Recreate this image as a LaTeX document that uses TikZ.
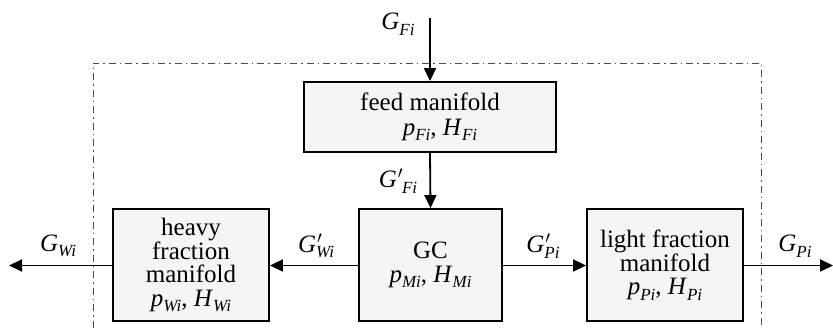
\documentclass[tikz,border=0pt]{standalone}
\usepackage{fontspec}
\setmainfont{Liberation Serif}
\usetikzlibrary{arrows.meta}
\newcommand{\subv}[1]{\raisebox{-0.22em}{\fontsize{17}{17}\selectfont\itshape #1}}
\newcommand{\vv}[2]{\textit{#1}\subv{#2}}
\newcommand{\vpa}[2]{\textit{#1}\kern1pt$^{\prime}$\kern-1pt\subv{#2}}
\newcommand{\vpb}[2]{\textit{#1}\rlap{\kern1pt$^{\prime}$}\subv{#2}}
\begin{document}
\begin{tikzpicture}[x=1pt,y=-1pt,
  box/.style={draw=black,line width=1.8pt,fill=gray!8,inner sep=0pt,align=center,
    font=\fontsize{25}{23.5}\selectfont},
  flow/.style={line width=1.8pt,-{Triangle[length=13pt,width=12pt]}},
  lbl/.style={font=\fontsize{25}{25}\selectfont,inner sep=0pt},
  frame/.style={draw=black!70,line width=0.9pt,dash pattern=on 7pt off 4pt on 1.5pt off 4pt}]
\useasboundingbox (0,0) rectangle (833,328);
% frame (open at bottom)
\draw[frame] (93,328) -- (93,63) -- (761,63) -- (761,328);
% boxes
\node[box,minimum width=252pt,minimum height=70pt] (feed) at (430,117)
  {feed manifold\\[1pt]\hspace*{20pt}\vv{p}{Fi}, \vv{H}{Fi}};
\node[box,minimum width=143pt,minimum height=112pt] (gc) at (430.5,265)
  {GC\\\vv{p}{Mi}, \vv{H}{Mi}};
\node[box,minimum width=156pt,minimum height=112pt] (heavy) at (191,265)
  {heavy\\fraction\\manifold\\\vv{p}{Wi}, \vv{H}{Wi}};
\node[box,minimum width=156pt,minimum height=112pt] (light) at (665,265)
  {light fraction\\manifold\\\vv{p}{Pi}, \vv{H}{Pi}};
% free ends
\coordinate (top) at (430,18);
\coordinate (left) at (9,265.5);
\coordinate (right) at (833,265.5);
% connectors
\draw[flow] (top) -- (feed.north);
\draw[flow] (feed.south) -- (gc.north);
\draw[flow] (gc.west |- 0,265.5) -- (heavy.east |- 0,265.5);
\draw[flow] (gc.east |- 0,265.5) -- (light.west |- 0,265.5);
\draw[flow] (heavy.west |- 0,265.5) -- (left);
\draw[flow] (light.east |- 0,265.5) -- (right);
% labels
\node[lbl] (lgf) at (398,24) {\vv{G}{Fi}};
\node[lbl] (lgfp) at (398,181) {\vpa{G}{Fi}};
\node[lbl] (lgwp) at (316,246) {\vpb{G}{Wi}};
\node[lbl] (lgpp) at (543,246) {\vpb{G}{Pi}};
\node[lbl] (lgw) at (58,246) {\vv{G}{Wi}};
\node[lbl] (lgp) at (795,246) {\vv{G}{Pi}};
\end{tikzpicture}
\end{document}
